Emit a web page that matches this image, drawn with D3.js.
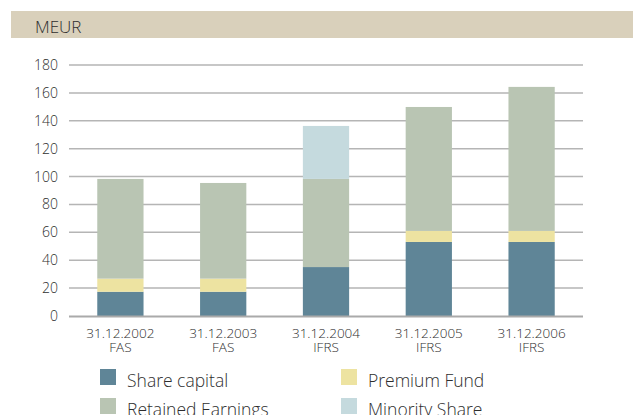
<!DOCTYPE html>
<html>
<head>
<meta charset="utf-8">
<script src="https://cdn.jsdelivr.net/npm/d3@7"></script>
<style>
  body { margin: 0; background: #fff; }
  svg { display: block; }
  text { font-family: "Open Sans", "Noto Sans", sans-serif; font-weight: 300; fill: #2e2e2e; }
</style>
</head>
<body>
<div id="chart"></div>
<script>
var dates = ["31.12.2002", "31.12.2003", "31.12.2004", "31.12.2005", "31.12.2006"];
var standards = ["FAS", "FAS", "IFRS", "IFRS", "IFRS"];
var seriesNames = ["Share capital", "Premium Fund", "Retained Earnings", "Minority Share"];
var shareCapital = [17.4, 17.4, 35.1, 53.1, 53.1];
var premiumFund = [9.4, 9.4, 0, 7.9, 7.9];
var retainedEarnings = [71.5, 68.6, 63.2, 88.9, 103.3];
var minorityShare = [0, 0, 38, 0, 0];
var yTicks = [0, 20, 40, 60, 80, 100, 120, 140, 160, 180];
var colors = ["#5f8597", "#ede3a1", "#b9c5b3", "#c5dade"];

var width = 633, height = 415;

var rows = dates.map(function(d, i) {
  return {
    date: d,
    std: standards[i],
    "Share capital": shareCapital[i],
    "Premium Fund": premiumFund[i],
    "Retained Earnings": retainedEarnings[i],
    "Minority Share": minorityShare[i]
  };
});

var svg = d3.select('#chart')
  .append('svg')
  .attr('width', width)
  .attr('height', height);

// header band
svg.append('rect')
  .attr('x', 11).attr('y', 11)
  .attr('width', width - 11).attr('height', 27)
  .attr('fill', '#d9d0bb');
svg.append('text')
  .attr('x', 35).attr('y', 33)
  .attr('font-size', 17)
  .text('MEUR');

var x = d3.scaleBand()
  .domain(dates)
  .range([69, 583])
  .paddingInner(0.55)
  .paddingOuter(0.275);

var y = d3.scaleLinear()
  .domain([0, 180])
  .range([316, 65]);

// grid lines
svg.append('g')
  .selectAll('line')
  .data(yTicks.filter(function(t) { return t > 0; }))
  .enter()
  .append('line')
  .attr('x1', 69).attr('x2', 583)
  .attr('y1', function(d) { return y(d); })
  .attr('y2', function(d) { return y(d); })
  .attr('stroke', '#b5b5b5')
  .attr('stroke-width', 1.5);

// y labels
svg.append('g')
  .selectAll('text')
  .data(yTicks)
  .enter()
  .append('text')
  .attr('x', 58)
  .attr('y', function(d) { return y(d); })
  .attr('dy', '0.36em')
  .attr('text-anchor', 'end')
  .attr('font-size', 14)
  .text(function(d) { return d; });

var stack = d3.stack().keys(seriesNames);
var stacked = stack(rows);

svg.append('g')
  .selectAll('g')
  .data(stacked)
  .enter()
  .append('g')
  .attr('fill', function(d, i) { return colors[i]; })
  .selectAll('rect')
  .data(function(d) { return d; })
  .enter()
  .append('rect')
  .attr('x', function(d) { return x(d.data.date); })
  .attr('width', x.bandwidth())
  .attr('y', function(d) { return y(d[1]); })
  .attr('height', function(d) { return y(d[0]) - y(d[1]); });

// baseline
svg.append('line')
  .attr('x1', 69).attr('x2', 583)
  .attr('y1', y(0) + 0.5).attr('y2', y(0) + 0.5)
  .attr('stroke', '#aaa')
  .attr('stroke-width', 2.2);

// x labels
var xl = svg.append('g')
  .selectAll('text')
  .data(rows)
  .enter()
  .append('text')
  .attr('text-anchor', 'middle')
  .attr('font-size', 13.5);
xl.append('tspan')
  .attr('x', function(d) { return x(d.date) + x.bandwidth() / 2; })
  .attr('y', 338)
  .text(function(d) { return d.date; });
xl.append('tspan')
  .attr('x', function(d) { return x(d.date) + x.bandwidth() / 2; })
  .attr('y', 352)
  .text(function(d) { return d.std; });

// legend
var legend = svg.append('g')
  .selectAll('g')
  .data(seriesNames)
  .enter()
  .append('g')
  .attr('transform', function(d, i) {
    return 'translate(' + (i % 2 === 0 ? 100 : 341) + ',' + (369 + Math.floor(i / 2) * 29) + ')';
  });
legend.append('rect')
  .attr('width', 16).attr('height', 16)
  .attr('fill', function(d, i) { return colors[i]; });
legend.append('text')
  .attr('x', 27).attr('y', 17.5)
  .attr('font-size', 17.5)
  .text(function(d) { return d; });
</script>
</body>
</html>
